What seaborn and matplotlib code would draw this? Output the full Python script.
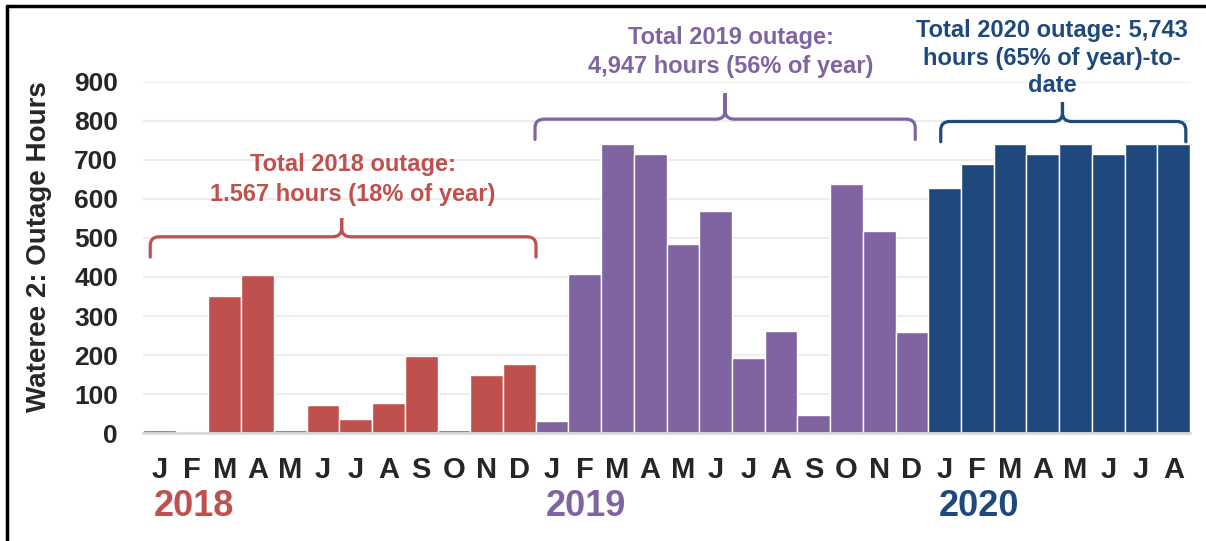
import numpy as np
import pandas as pd
import seaborn as sns
import matplotlib.pyplot as plt
from matplotlib.path import Path
from matplotlib.patches import PathPatch
from matplotlib.lines import Line2D

# monthly outage hours
hours_2018 = [9, 0, 351, 404, 9, 72, 36, 77, 197, 9, 148, 177]
hours_2019 = [32, 407, 740, 716, 485, 570, 193, 262, 46, 639, 518, 259]
hours_2020 = [627, 688, 740, 716, 740, 716, 740, 740]

months = ["J", "F", "M", "A", "M", "J", "J", "A", "S", "O", "N", "D"]
years = ["2018", "2019", "2020"]
year_colors = ["#C0504D", "#8064A2", "#1F497D"]

# annotation lines above each year
notes = [
    ["Total 2018 outage:", "1.567 hours (18% of year)"],
    ["Total 2019 outage:", "4,947 hours (56% of year)"],
    ["Total 2020 outage: 5,743", "hours (65% of year)-to-", "date"],
]

rows = []
for yr, vals in zip(years, [hours_2018, hours_2019, hours_2020]):
    for m, v in zip(months, vals):
        rows.append((yr, m, v))
df = pd.DataFrame(rows, columns=["year", "month", "hours"])
df["slot"] = np.arange(len(df))

sns.set_style("white")
plt.rcParams["font.family"] = ["Liberation Sans", "DejaVu Sans"]

fig = plt.figure(figsize=(12.06, 5.41), dpi=100)
ax = fig.add_axes([0.1186, 0.1991, 0.8682, 0.650])

sns.barplot(data=df, x="slot", y="hours", hue="year", palette=year_colors,
            saturation=1, dodge=False, width=1, edgecolor="white", linewidth=1.0,
            errorbar=None, legend=False, ax=ax)

ax.set_xlim(-0.5, len(df) - 0.5)
ax.set_ylim(0, 900)
ax.set_yticks(range(0, 1000, 100))
ax.set_yticklabels([str(v) for v in range(0, 1000, 100)], fontweight="bold", fontsize=19)
ax.yaxis.grid(True, color="#EDEDED", linewidth=1.5)
ax.set_axisbelow(True)
ax.tick_params(axis="y", length=0, pad=18)

ax.set_xticks(df["slot"])
ax.set_xticklabels(df["month"], fontweight="bold", fontsize=21)
ax.set_xticks(np.arange(-0.5, len(df)), minor=True)
ax.tick_params(axis="x", which="major", length=0, pad=16)
ax.tick_params(axis="x", which="minor", length=7, width=2, color="#D9D9D9")
ax.set_xlabel("")
ax.set_ylabel("")

for s in ["top", "right", "left"]:
    ax.spines[s].set_visible(False)
ax.spines["bottom"].set_color("#D9D9D9")
ax.spines["bottom"].set_linewidth(2)

fig.text(39 / 1206, 1 - 247 / 541, "Wateree 2: Outage Hours", rotation=90,
         ha="center", va="center", fontsize=20, fontweight="bold")

# year labels under the months
starts = [0, 12, 24]
for yr, st, col in zip(years, starts, year_colors):
    ax.text(st + 1.05, -0.207, yr, transform=ax.get_xaxis_transform(),
            ha="center", va="center", fontsize=26, fontweight="bold", color=col)


def brace(x0, x1, xc, y, drop, rise, color):
    rx, ry = 0.28, 22
    verts = [(x0, y - drop), (x0, y - ry), (x0, y), (x0 + rx, y),
             (xc - rx, y), (xc, y), (xc, y + ry), (xc, y + rise),
             (xc, y + ry), (xc, y), (xc + rx, y),
             (x1 - rx, y), (x1, y), (x1, y - ry), (x1, y - drop)]
    codes = [Path.MOVETO, Path.LINETO, Path.CURVE3, Path.CURVE3,
             Path.LINETO, Path.CURVE3, Path.CURVE3, Path.LINETO,
             Path.LINETO, Path.CURVE3, Path.CURVE3,
             Path.LINETO, Path.CURVE3, Path.CURVE3, Path.LINETO]
    ax.add_patch(PathPatch(Path(verts, codes), fill=False, edgecolor=color,
                           linewidth=2.3, clip_on=False, capstyle="round"))


brace_x0 = [-0.28, 11.48, 23.88]
brace_x1 = [11.51, 23.10, 31.37]
brace_xc = [5.57, 17.29, 27.60]
brace_y = [503, 804, 798]
brace_rise = [48, 66, 49]
for i in range(3):
    brace(brace_x0[i], brace_x1[i], brace_xc[i], brace_y[i], 52, brace_rise[i], year_colors[i])

note_x = [5.92, 17.47, 27.28]
note_y = [[687, 610], [1012, 940], [1032, 960, 889]]
for lines, xs, ys, col in zip(notes, note_x, note_y, year_colors):
    for txt, yy in zip(lines, ys):
        ax.text(xs, yy, txt, ha="center", va="center", fontsize=17,
                fontweight="bold", color=col, clip_on=False)

# cropped frame around the slide
fig.add_artist(Line2D([7 / 1206, 7 / 1206], [0, 1 - 5.5 / 541], transform=fig.transFigure,
                      color="black", linewidth=2.5))
fig.add_artist(Line2D([7 / 1206, 1], [1 - 5.5 / 541, 1 - 5.5 / 541], transform=fig.transFigure,
                      color="black", linewidth=2.5))

fig.savefig("out.png", dpi=100)
